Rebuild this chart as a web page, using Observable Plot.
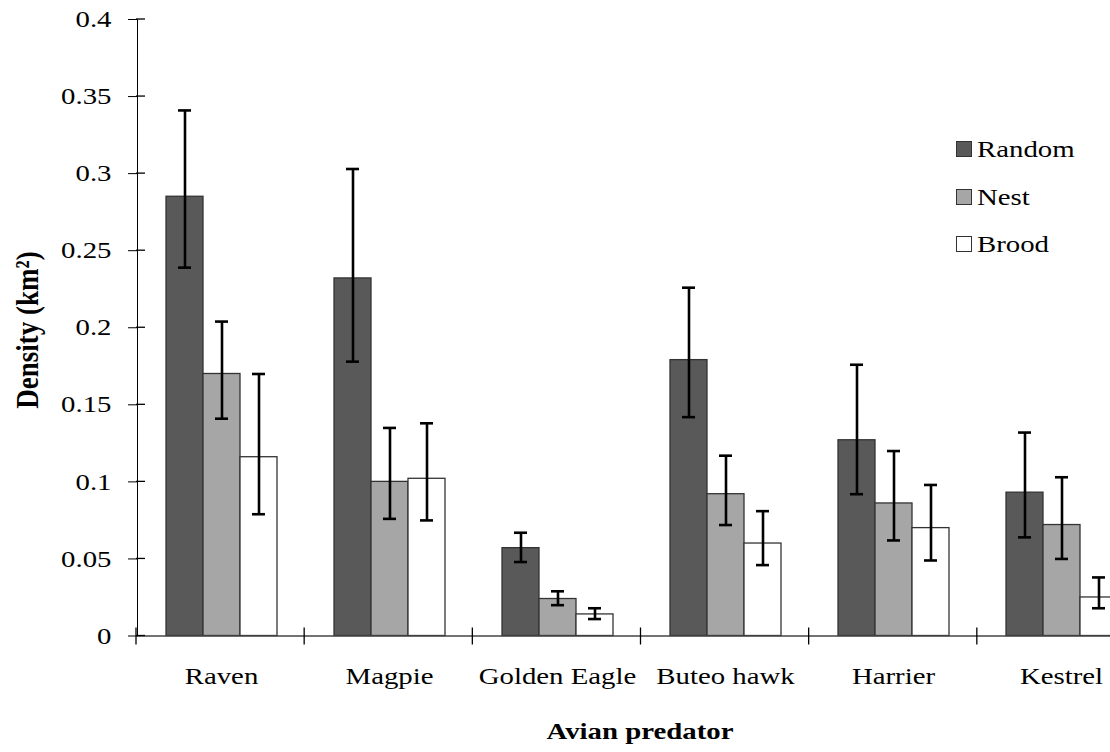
<!DOCTYPE html>
<html>
<head>
<meta charset="utf-8">
<script src="https://cdn.jsdelivr.net/npm/d3@7"></script>
<script src="https://cdn.jsdelivr.net/npm/@observablehq/plot@0.6"></script>
<style>
  html, body { margin: 0; padding: 0; background: #fff; overflow: hidden; }
  #wrap { position: relative; width: 1110px; height: 752px; overflow: hidden;
          font-family: "Liberation Serif", "Times New Roman", serif; color: #000; }
  #chart { position: absolute; left: 0; top: 0; }
  .title { position: absolute; font-weight: bold; font-size: 24px; line-height: 24px; white-space: nowrap; }
  #xtitle { left: 640px; top: 719px; transform: translateX(-50%) scaleX(1.2); }
  #ytitle { left: 28px; top: 330px; font-size: 27px; line-height: 27px;
            transform: translate(-50%, -50%) scale(1.2, 1) rotate(-90deg); }
  .leg-sw { position: absolute; width: 14px; height: 14px; border: 1px solid #333; }
  .leg-tx { position: absolute; font-size: 24px; line-height: 24px; white-space: nowrap;
            transform: scaleX(1.2); transform-origin: 0 50%; }
</style>
</head>
<body>
<div id="wrap">
  <div id="chart"></div>
  <div class="title" id="xtitle">Avian predator</div>
  <div class="title" id="ytitle">Density (km²)</div>
  <div id="legend"></div>
</div>
<script>
// ---- data ----
const categories = ["Raven", "Magpie", "Golden Eagle", "Buteo hawk", "Harrier", "Kestrel"];
const series = ["Random", "Nest", "Brood"];

const randomMean = [0.285, 0.232, 0.057, 0.179, 0.127, 0.093];
const randomLow  = [0.239, 0.178, 0.048, 0.142, 0.092, 0.064];
const randomHigh = [0.341, 0.303, 0.067, 0.226, 0.176, 0.132];

const nestMean = [0.170, 0.100, 0.024, 0.092, 0.086, 0.072];
const nestLow  = [0.141, 0.076, 0.020, 0.072, 0.062, 0.050];
const nestHigh = [0.204, 0.135, 0.029, 0.117, 0.120, 0.103];

const broodMean = [0.116, 0.102, 0.014, 0.060, 0.070, 0.025];
const broodLow  = [0.079, 0.075, 0.011, 0.046, 0.049, 0.018];
const broodHigh = [0.170, 0.138, 0.018, 0.081, 0.098, 0.038];

const yTicks = [0, 0.05, 0.1, 0.15, 0.2, 0.25, 0.3, 0.35, 0.4];
const seriesColors = ["#595959", "#a6a6a6", "#ffffff"];

// ---- table built from the arrays ----
const stats = {
  Random: [randomMean, randomLow, randomHigh],
  Nest: [nestMean, nestLow, nestHigh],
  Brood: [broodMean, broodLow, broodHigh]
};
const rows = [];
categories.forEach((c, i) => {
  series.forEach(s => {
    const [m, lo, hi] = stats[s];
    rows.push({category: c, series: s, mean: m[i], low: lo[i], high: hi[i]});
  });
});

const fmt = d3.format("~g");

const chart = Plot.plot({
  width: 1110,
  height: 752,
  marginLeft: 136,
  marginRight: 0,
  marginTop: 19,
  marginBottom: 116.5,
  style: {
    fontFamily: '"Liberation Serif", "Times New Roman", serif',
    fontSize: "24px",
    color: "#000",
    background: "transparent"
  },
  facet: {data: rows, x: "category"},
  fx: {domain: categories, range: [136, 1145], padding: 0, axis: "bottom",
       label: null, tickSize: 0, tickPadding: 31},
  x: {domain: series, paddingInner: 0, paddingOuter: 0.77, axis: null},
  y: {domain: [0, 0.4], ticks: yTicks, tickFormat: d => fmt(d), tickSize: 9,
      tickPadding: 17, label: null, line: true},
  color: {domain: series, range: seriesColors},
  marks: [
    Plot.barY(rows, {x: "series", y: "mean", fill: "series", stroke: "#333", strokeWidth: 1.3}),
    Plot.ruleY([0], {stroke: "#444", strokeWidth: 1.5}),
    Plot.ruleX(rows, {x: "series", y1: "low", y2: "high", stroke: "#000", strokeWidth: 2.6}),
    Plot.tickY(rows, {x: "series", y: "low", stroke: "#000", strokeWidth: 2.6, insetLeft: 12, insetRight: 12}),
    Plot.tickY(rows, {x: "series", y: "high", stroke: "#000", strokeWidth: 2.6, insetLeft: 12, insetRight: 12})
  ]
});
document.getElementById("chart").appendChild(chart);

// the reference's lettering is stretched horizontally; stretch each label about its anchor,
// keeping whatever transform Plot already gave the text
d3.select(chart).selectAll("text").each(function () {
  const b = this.getBBox();
  const anchor = getComputedStyle(this).textAnchor;
  const ax = anchor === "end" ? b.x + b.width : anchor === "start" ? b.x : b.x + b.width / 2;
  const prev = this.getAttribute("transform") || "";
  this.setAttribute("transform",
    `${prev} translate(${ax},0) scale(1.2,1) translate(${-ax},0)`.trim());
});

// crossing tick marks (Excel style), positioned from Plot's own scales
const fxS = chart.scale("fx");
const yS = chart.scale("y");
const fxScale = d3.scaleBand().domain(fxS.domain).range(fxS.range).padding(0);
const yScale = d3.scaleLinear().domain(yS.domain).range(yS.range);
const g = d3.select(chart).append("g").attr("stroke", "#000").attr("stroke-width", 1.3);
const x0 = fxS.range[0];
const y0 = yScale(0);
// inner halves of the y ticks
g.selectAll("line.yt").data(yTicks).join("line")
  .attr("x1", x0).attr("x2", x0 + 9)
  .attr("y1", d => yScale(d)).attr("y2", d => yScale(d));
// category boundary ticks on the x axis
const bounds = categories.map(c => fxScale(c)).concat([fxScale.range()[1]]);
g.selectAll("line.xt").data(bounds).join("line")
  .attr("x1", d => d).attr("x2", d => d)
  .attr("y1", y0 - 8).attr("y2", y0 + 9);

// legend
const legend = document.getElementById("legend");
const legTops = [137, 185, 232];
series.forEach((s, i) => {
  const sw = document.createElement("div");
  sw.className = "leg-sw";
  sw.style.left = "956px";
  sw.style.top = (legTops[i] + 4) + "px";
  sw.style.background = seriesColors[i];
  legend.appendChild(sw);
  const tx = document.createElement("div");
  tx.className = "leg-tx";
  tx.style.left = "977px";
  tx.style.top = legTops[i] + "px";
  tx.textContent = s;
  legend.appendChild(tx);
});
</script>
</body>
</html>
